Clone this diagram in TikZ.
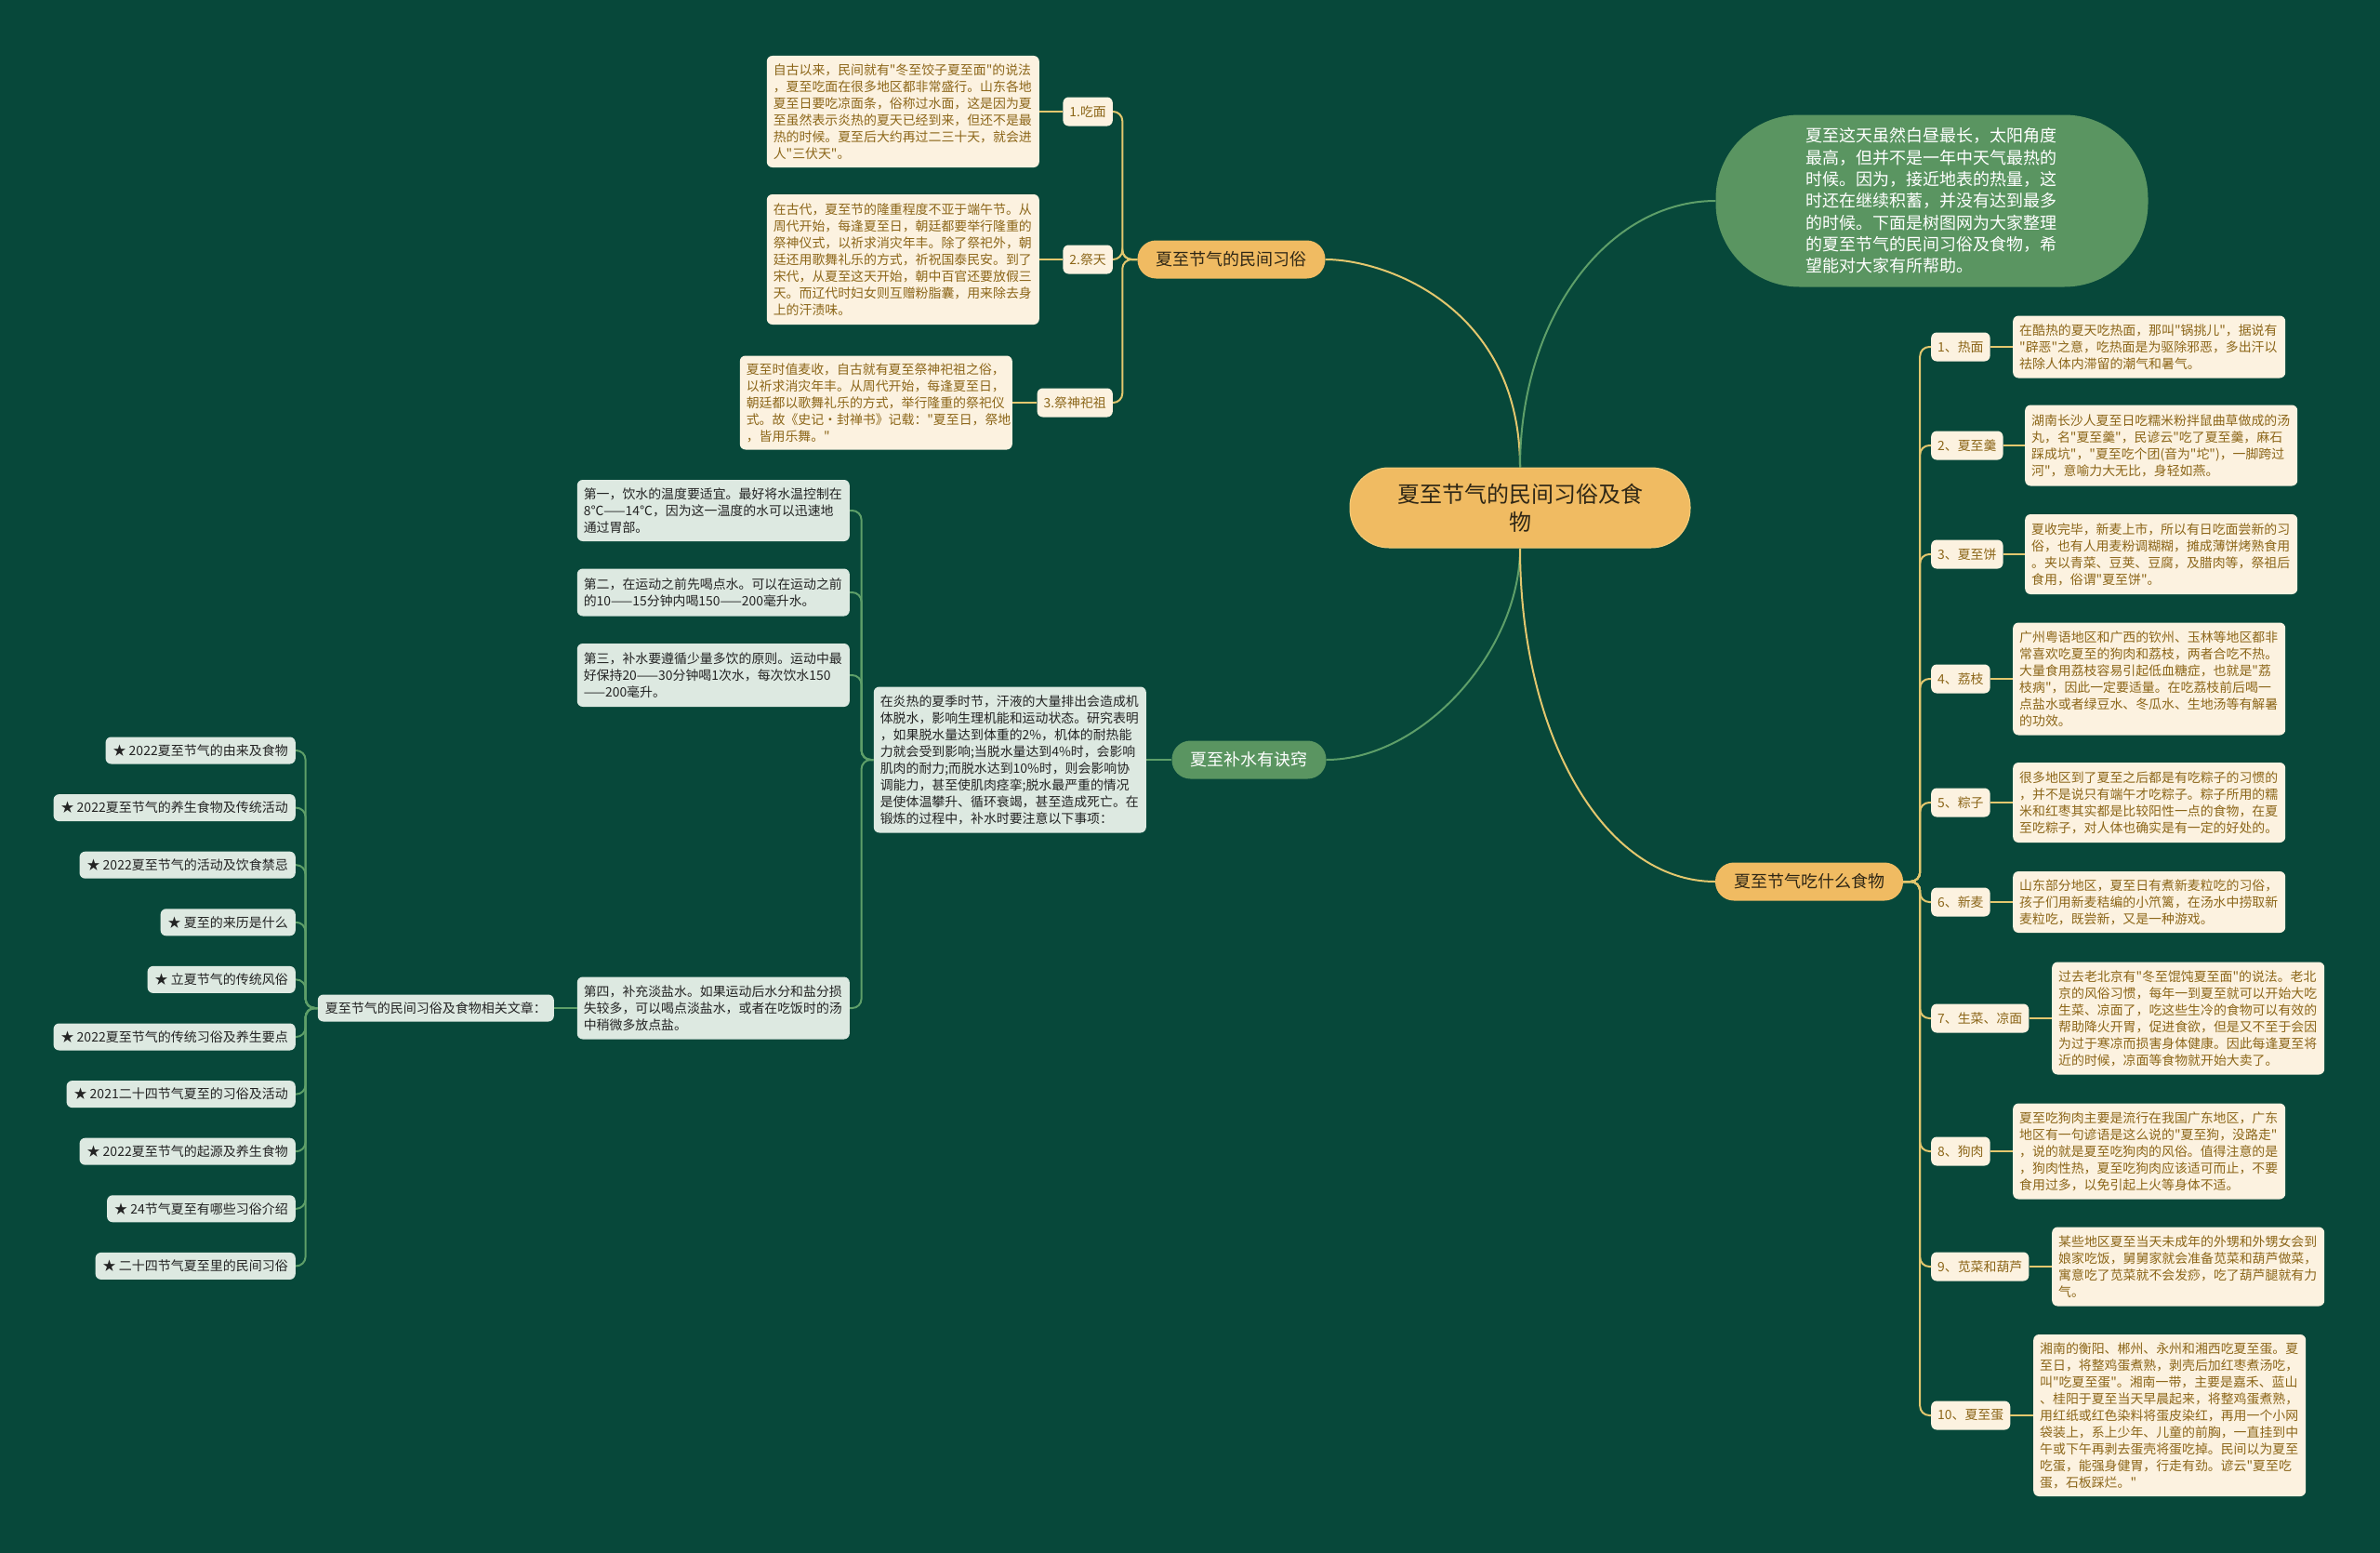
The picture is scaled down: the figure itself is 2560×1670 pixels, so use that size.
\documentclass[tikz,border=0pt]{standalone}
\usepackage{fontspec}
\setmainfont{Noto Sans CJK SC}[Ligatures=TeXOff]
\definecolor{bg}{HTML}{07483A}
\definecolor{orangefill}{HTML}{F0BB62}
\definecolor{orangeedge}{HTML}{F5CD7A}
\definecolor{greenfill}{HTML}{5A9561}
\definecolor{creamfill}{HTML}{FCF2E0}
\definecolor{creamtext}{HTML}{8C6619}
\definecolor{greyfill}{HTML}{DDE9E1}
\definecolor{darktext}{HTML}{232323}
\definecolor{ylinec}{HTML}{E3C76E}
\definecolor{glinec}{HTML}{5E9F69}
\definecolor{nodetext}{HTML}{2F2716}
\begin{document}
\begin{tikzpicture}[x=1pt,y=-1pt,
  every node/.style={inner sep=0pt},
  centre/.style={fill=orangefill, draw=orangeedge, line width=1pt, text=nodetext, rounded corners=42pt, minimum width=366pt, minimum height=86pt, align=center, font=\fontsize{24}{30}\selectfont},
  bubble/.style={fill=greenfill, text=white, rounded corners=90pt, minimum width=465pt, minimum height=185pt, align=left, text width=272pt, font=\fontsize{18}{23.3}\selectfont},
  branch/.style={rounded corners=20pt, minimum height=41pt, inner xsep=20pt, font=\fontsize{18}{22}\selectfont},
  obranch/.style={branch, fill=orangefill, text=nodetext},
  gbranch/.style={branch, fill=greenfill, text=white},
  cream/.style={fill=creamfill, text=creamtext, rounded corners=6pt, inner xsep=7pt, inner ysep=0pt, font=\fontsize{13.9}{18}\selectfont},
  cbox/.style={cream, align=left, text width=279pt},
  clabel/.style={cream, minimum height=31pt},
  grey/.style={fill=greyfill, text=darktext, rounded corners=6pt, inner xsep=7pt, inner ysep=0pt, font=\fontsize{13.9}{18}\selectfont},
  gbox/.style={grey, align=left, text width=279pt},
  glabel/.style={grey, inner xsep=8pt, minimum height=29pt, font=\fontsize{14}{18}\selectfont},
  yline/.style={draw=ylinec, line width=2pt},
  gline/.style={draw=glinec, line width=2pt}
]
\fill[bg] (0,0) rectangle (2560,1670);
\useasboundingbox (0,0) rectangle (2560,1670);

% centre and branches
\node[centre] (c) at (1635,546) {夏至节气的民间习俗及食\\物};
\node[bubble] (bub) at (2078,216) {夏至这天虽然白昼最长，太阳角度\\最高，但并不是一年中天气最热的\\时候。因为，接近地表的热量，这\\时还在继续积蓄，并没有达到最多\\的时候。下面是树图网为大家整理\\的夏至节气的民间习俗及食物，希\\望能对大家有所帮助。};
\node[obranch] (b1) at (1324.5,279) {夏至节气的民间习俗};
\node[obranch] (b3) at (1946,948) {夏至节气吃什么食物};
\node[gbranch] (b2) at (1343.5,817) {夏至补水有诀窍};

% top-left group
\node[clabel, anchor=east] (l1) at (1197,120) {1.吃面};
\node[clabel, anchor=east] (l2) at (1197,279) {2.祭天};
\node[clabel, anchor=east] (l3) at (1197,433) {3.祭神祀祖};
\node[cbox, anchor=east, minimum height=120pt] (t1) at (1118,120) {自古以来，民间就有"冬至饺子夏至面"的说法\\，夏至吃面在很多地区都非常盛行。山东各地\\夏至日要吃凉面条，俗称过水面，这是因为夏\\至虽然表示炎热的夏天已经到来，但还不是最\\热的时候。夏至后大约再过二三十天，就会进\\人"三伏天"。};
\node[cbox, anchor=east, minimum height=140pt] (t2) at (1118,279) {在古代，夏至节的隆重程度不亚于端午节。从\\周代开始，每逢夏至日，朝廷都要举行隆重的\\祭神仪式，以祈求消灾年丰。除了祭祀外，朝\\廷还用歌舞礼乐的方式，祈祝国泰民安。到了\\宋代，从夏至这天开始，朝中百官还要放假三\\天。而辽代时妇女则互赠粉脂囊，用来除去身\\上的汗渍味。};
\node[cbox, anchor=east, minimum height=101pt] (t3) at (1089,433) {夏至时值麦收，自古就有夏至祭神祀祖之俗，\\以祈求消灾年丰。从周代开始，每逢夏至日，\\朝廷都以歌舞礼乐的方式，举行隆重的祭祀仪\\式。故《史记·封禅书》记载："夏至日，祭地\\，皆用乐舞。"};

% right group
\node[clabel, anchor=west] (r1) at (2077,373) {1、热面};
\node[clabel, anchor=west] (r2) at (2077,479) {2、夏至羹};
\node[clabel, anchor=west] (r3) at (2077,596) {3、夏至饼};
\node[clabel, anchor=west] (r4) at (2077,730) {4、荔枝};
\node[clabel, anchor=west] (r5) at (2077,863) {5、粽子};
\node[clabel, anchor=west] (r6) at (2077,970) {6、新麦};
\node[clabel, anchor=west] (r7) at (2077,1095) {7、生菜、凉面};
\node[clabel, anchor=west] (r8) at (2077,1238) {8、狗肉};
\node[clabel, anchor=west] (r9) at (2077,1362) {9、苋菜和葫芦};
\node[clabel, anchor=west] (r10) at (2077,1522) {10、夏至蛋};

\node[cbox, anchor=west, minimum height=67pt] (s1) at (2165,373) {在酷热的夏天吃热面，那叫"锅挑儿"，据说有\\"辟恶"之意，吃热面是为驱除邪恶，多出汗以\\祛除人体内滞留的潮气和暑气。};
\node[cbox, anchor=west, minimum height=87pt] (s2) at (2178,479) {湖南长沙人夏至日吃糯米粉拌鼠曲草做成的汤\\丸，名"夏至羹"，民谚云"吃了夏至羹，麻石\\踩成坑"，"夏至吃个团(音为"坨")，一脚跨过\\河"，意喻力大无比，身轻如燕。};
\node[cbox, anchor=west, minimum height=86pt] (s3) at (2178,596) {夏收完毕，新麦上市，所以有日吃面尝新的习\\俗，也有人用麦粉调糊糊，摊成薄饼烤熟食用\\。夹以青菜、豆荚、豆腐，及腊肉等，祭祖后\\食用，俗谓"夏至饼"。};
\node[cbox, anchor=west, minimum height=121pt] (s4) at (2165,730) {广州粤语地区和广西的钦州、玉林等地区都非\\常喜欢吃夏至的狗肉和荔枝，两者合吃不热。\\大量食用荔枝容易引起低血糖症，也就是"荔\\枝病"，因此一定要适量。在吃荔枝前后喝一\\点盐水或者绿豆水、冬瓜水、生地汤等有解暑\\的功效。};
\node[cbox, anchor=west, minimum height=86pt] (s5) at (2165,863) {很多地区到了夏至之后都是有吃粽子的习惯的\\，并不是说只有端午才吃粽子。粽子所用的糯\\米和红枣其实都是比较阳性一点的食物，在夏\\至吃粽子，对人体也确实是有一定的好处的。};
\node[cbox, anchor=west, minimum height=66pt] (s6) at (2165,970) {山东部分地区，夏至日有煮新麦粒吃的习俗，\\孩子们用新麦秸编的小笊篱，在汤水中捞取新\\麦粒吃，既尝新，又是一种游戏。};
\node[cbox, anchor=west, minimum height=121pt] (s7) at (2207,1095) {过去老北京有"冬至馄饨夏至面"的说法。老北\\京的风俗习惯，每年一到夏至就可以开始大吃\\生菜、凉面了，吃这些生冷的食物可以有效的\\帮助降火开胃，促进食欲，但是又不至于会因\\为过于寒凉而损害身体健康。因此每逢夏至将\\近的时候，凉面等食物就开始大卖了。};
\node[cbox, anchor=west, minimum height=103pt] (s8) at (2165,1238) {夏至吃狗肉主要是流行在我国广东地区，广东\\地区有一句谚语是这么说的"夏至狗，没路走"\\，说的就是夏至吃狗肉的风俗。值得注意的是\\，狗肉性热，夏至吃狗肉应该适可而止，不要\\食用过多，以免引起上火等身体不适。};
\node[cbox, anchor=west, minimum height=85pt] (s9) at (2207,1362) {某些地区夏至当天未成年的外甥和外甥女会到\\娘家吃饭，舅舅家就会准备苋菜和葫芦做菜，\\寓意吃了苋菜就不会发痧，吃了葫芦腿就有力\\气。};
\node[cbox, anchor=west, minimum height=174pt] (s10) at (2187,1522) {湘南的衡阳、郴州、永州和湘西吃夏至蛋。夏\\至日，将整鸡蛋煮熟，剥壳后加红枣煮汤吃，\\叫"吃夏至蛋"。湘南一带，主要是嘉禾、蓝山\\、桂阳于夏至当天早晨起来，将整鸡蛋煮熟，\\用红纸或红色染料将蛋皮染红，再用一个小网\\袋装上，系上少年、儿童的前胸，一直挂到中\\午或下午再剥去蛋壳将蛋吃掉。民间以为夏至\\吃蛋，能强身健胃，行走有劲。谚云"夏至吃\\蛋，石板踩烂。"};

% left-middle group
\node[gbox, anchor=east, minimum height=157pt] (big) at (1233,817) {在炎热的夏季时节，汗液的大量排出会造成机\\体脱水，影响生理机能和运动状态。研究表明\\，如果脱水量达到体重的2\%，机体的耐热能\\力就会受到影响;当脱水量达到4\%时，会影响\\肌肉的耐力;而脱水达到10\%时，则会影响协\\调能力，甚至使肌肉痉挛;脱水最严重的情况\\是使体温攀升、循环衰竭，甚至造成死亡。在\\锻炼的过程中，补水时要注意以下事项：};
\node[gbox, anchor=east, minimum height=66pt] (w1) at (914,549) {第一，饮水的温度要适宜。最好将水温控制在\\8℃——14℃，因为这一温度的水可以迅速地\\通过胃部。};
\node[gbox, anchor=east, minimum height=51pt] (w2) at (914,637) {第二，在运动之前先喝点水。可以在运动之前\\的10——15分钟内喝150——200毫升水。};
\node[gbox, anchor=east, minimum height=68pt] (w3) at (914,726) {第三，补水要遵循少量多饮的原则。运动中最\\好保持20——30分钟喝1次水，每次饮水150\\——200毫升。};
\node[gbox, anchor=east, minimum height=67pt] (w4) at (914,1084) {第四，补充淡盐水。如果运动后水分和盐分损\\失较多，可以喝点淡盐水，或者在吃饭时的汤\\中稍微多放点盐。};
\node[glabel, anchor=east] (rel) at (596,1084) {夏至节气的民间习俗及食物相关文章：};

\node[glabel, anchor=east] (i1) at (318,807) {★ 2022夏至节气的由来及食物};
\node[glabel, anchor=east] (i2) at (318,868.6) {★ 2022夏至节气的养生食物及传统活动};
\node[glabel, anchor=east] (i3) at (318,930.2) {★ 2022夏至节气的活动及饮食禁忌};
\node[glabel, anchor=east] (i4) at (318,991.8) {★ 夏至的来历是什么};
\node[glabel, anchor=east] (i5) at (318,1053.4) {★ 立夏节气的传统风俗};
\node[glabel, anchor=east] (i6) at (318,1115) {★ 2022夏至节气的传统习俗及养生要点};
\node[glabel, anchor=east] (i7) at (318,1176.6) {★ 2021二十四节气夏至的习俗及活动};
\node[glabel, anchor=east] (i8) at (318,1238.2) {★ 2022夏至节气的起源及养生食物};
\node[glabel, anchor=east] (i9) at (318,1299.8) {★ 24节气夏至有哪些习俗介绍};
\node[glabel, anchor=east] (i10) at (318,1361.4) {★ 二十四节气夏至里的民间习俗};

% main curves
\draw[yline] (c.north) .. controls (1635,330) and (1490,279) .. (b1.east);
\draw[gline] (c.north) .. controls (1635,340) and (1730,216) .. (bub.west);
\draw[gline] (c.south) .. controls (1635,700) and (1530,817) .. (b2.east);
\draw[yline] (c.south) .. controls (1635,790) and (1725,948) .. (b3.west);

% top-left brackets
\foreach \n in {l1,l2,l3} \draw[yline, rounded corners=10pt] (b1.west) -- ++(-16,0) |- (\n.east);
\draw[yline] (l1.west) -- (t1.east);
\draw[yline] (l2.west) -- (t2.east);
\draw[yline] (l3.west) -- (t3.east);

% right brackets
\foreach \n in {r1,r2,r3,r4,r5,r6,r7,r8,r9,r10} \draw[yline, rounded corners=10pt] (b3.east) -- ++(18,0) |- (\n.west);
\foreach \a/\b in {r1/s1,r2/s2,r3/s3,r4/s4,r5/s5,r6/s6,r7/s7,r8/s8,r9/s9,r10/s10} \draw[yline] (\a.east) -- (\b.west);

% left-middle
\draw[gline] (b2.west) -- (big.east);
\foreach \n in {w1,w2,w3,w4} \draw[gline, rounded corners=10pt] (big.west) -- ++(-13,0) |- (\n.east);
\draw[gline] (w4.west) -- (rel.east);
\foreach \n in {i1,i2,i3,i4,i5,i6,i7,i8,i9,i10} \draw[gline, rounded corners=10pt] (rel.west) -- ++(-13,0) |- (\n.east);
\end{tikzpicture}
\end{document}
